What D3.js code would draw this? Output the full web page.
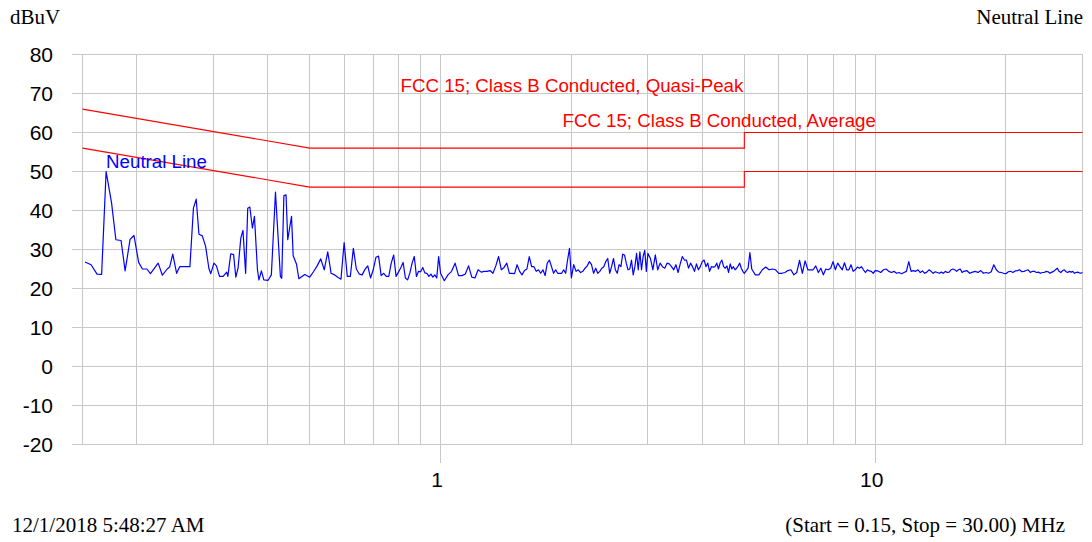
<!DOCTYPE html>
<html>
<head>
<meta charset="utf-8">
<script src="https://cdn.jsdelivr.net/npm/d3@7"></script>
<style>
  body { margin: 0; background: #fff; }
  svg { display: block; }
</style>
</head>
<body>
<svg id="chart" width="1092" height="542"></svg>
<script>
// Axis ticks
const yTicks = [80, 70, 60, 50, 40, 30, 20, 10, 0, -10, -20];
const xMajor = [1, 10];
const xMinor = [0.2, 0.3, 0.4, 0.5, 0.6, 0.7, 0.8, 0.9, 2, 3, 4, 5, 6, 7, 8, 9, 20];

// FCC 15 Class B conducted limits, [MHz, dBuV]
const limitQP = [[0.15, 66], [0.5, 56], [5, 56], [5, 60], [30, 60]];
const limitAvg = [[0.15, 56], [0.5, 46], [5, 46], [5, 50], [30, 50]];

// Neutral line scan, [MHz, dBuV]
const neutralLow = [
  [0.152, 26.8], [0.157, 26.1], [0.162, 23.7], [0.166, 23.6], [0.170, 50.0], [0.175, 41.9],
  [0.179, 32.5], [0.184, 32.3], [0.188, 24.5], [0.193, 32.6], [0.197, 33.6], [0.202, 26.7],
  [0.206, 25.0], [0.211, 25.0], [0.215, 23.8], [0.224, 26.5], [0.229, 23.4], [0.235, 25.0],
  [0.238, 25.5], [0.242, 28.8], [0.247, 23.9], [0.251, 25.6], [0.265, 25.6], [0.270, 40.6],
  [0.274, 42.9], [0.278, 33.9], [0.283, 33.5], [0.288, 30.8], [0.293, 25.2], [0.296, 23.8],
  [0.301, 26.5], [0.305, 25.8], [0.310, 23.1], [0.316, 23.1], [0.322, 24.2], [0.324, 23.1],
  [0.329, 28.9], [0.334, 28.7], [0.338, 22.9], [0.342, 25.2], [0.347, 32.9], [0.351, 34.9],
  [0.356, 23.9], [0.360, 40.6], [0.364, 40.9], [0.369, 35.5], [0.373, 38.5], [0.379, 24.8],
  [0.382, 22.2], [0.387, 24.5], [0.392, 22.2], [0.401, 22.1], [0.408, 23.5], [0.417, 44.7],
  [0.428, 23.1], [0.431, 22.6], [0.436, 43.8], [0.441, 44.0], [0.445, 32.5], [0.454, 38.5],
  [0.458, 28.4], [0.466, 26.3], [0.472, 22.5], [0.487, 23.6]
];
const neutralMid = [
  [0.50, 22.9], [0.51, 24.3], [0.52, 25.8], [0.53, 27.6], [0.54, 24.8], [0.55, 29.4],
  [0.56, 23.9], [0.57, 23.5], [0.58, 22.9], [0.59, 22.4], [0.60, 31.8], [0.61, 23.1],
  [0.62, 23.1], [0.63, 30.3], [0.64, 25.0], [0.65, 23.7], [0.66, 23.5], [0.67, 24.9],
  [0.68, 25.8], [0.69, 22.7], [0.70, 24.8], [0.71, 28.0], [0.72, 28.3], [0.73, 23.3],
  [0.74, 23.9], [0.75, 23.1], [0.76, 23.1], [0.77, 26.5], [0.78, 28.6], [0.79, 23.1],
  [0.80, 24.2], [0.81, 25.3], [0.82, 26.7], [0.83, 22.7], [0.84, 22.2], [0.85, 24.0],
  [0.86, 26.5], [0.87, 28.2], [0.88, 23.1], [0.89, 24.4], [0.90, 24.3], [0.91, 25.4],
  [0.92, 24.0], [0.93, 23.9], [0.94, 23.1], [0.95, 23.7], [0.96, 22.9], [0.97, 23.5],
  [0.98, 22.7], [0.99, 28.2], [1.00, 23.9],
  [1.02, 22.0], [1.04, 23.5], [1.06, 24.4], [1.08, 26.5], [1.10, 23.3], [1.12, 23.3],
  [1.14, 23.7], [1.16, 25.8], [1.18, 22.9], [1.20, 22.7], [1.22, 24.8], [1.24, 24.2],
  [1.26, 24.4], [1.28, 24.4], [1.30, 24.6], [1.32, 23.9], [1.34, 25.8], [1.36, 28.2],
  [1.38, 24.8], [1.40, 25.4], [1.42, 26.5], [1.44, 23.9], [1.46, 23.9], [1.48, 23.8],
  [1.50, 26.1], [1.52, 24.4], [1.54, 23.5], [1.56, 24.6], [1.58, 25.0], [1.60, 28.2],
  [1.62, 25.6], [1.64, 25.6], [1.66, 24.4], [1.68, 24.8], [1.70, 23.9], [1.72, 24.8],
  [1.74, 23.3], [1.76, 26.5], [1.78, 27.3], [1.80, 25.6], [1.82, 23.9], [1.84, 24.8],
  [1.86, 23.9], [1.88, 23.9], [1.90, 23.9], [1.92, 24.8], [1.94, 23.9], [1.96, 27.3],
  [1.98, 30.3], [2.00, 22.7],
  [2.025, 26.1], [2.05, 24.4], [2.075, 24.8], [2.10, 24.1], [2.125, 24.4], [2.15, 25.2],
  [2.175, 25.8], [2.20, 26.9], [2.225, 26.1], [2.25, 23.9], [2.275, 25.2], [2.30, 23.9],
  [2.325, 24.4], [2.35, 25.2], [2.375, 25.6], [2.40, 26.9], [2.425, 27.7], [2.45, 23.9],
  [2.475, 25.6], [2.50, 27.7], [2.525, 24.8], [2.55, 23.9], [2.575, 26.1], [2.60, 25.6],
  [2.625, 28.8], [2.65, 28.6], [2.675, 26.5], [2.70, 24.8], [2.725, 25.0], [2.75, 27.3],
  [2.775, 23.5], [2.80, 25.6], [2.825, 29.0], [2.85, 24.8], [2.875, 29.4], [2.90, 24.8],
  [2.925, 28.2], [2.95, 29.8], [2.975, 24.4], [3.00, 29.0],
  [3.04, 27.7], [3.08, 24.8], [3.12, 28.6], [3.16, 24.8], [3.20, 26.5], [3.24, 25.6],
  [3.28, 25.2], [3.32, 26.5], [3.36, 26.3], [3.40, 25.6], [3.44, 24.8], [3.48, 26.1],
  [3.52, 24.1], [3.56, 26.3], [3.60, 28.2], [3.64, 27.3], [3.68, 27.3], [3.72, 25.2],
  [3.76, 26.5], [3.80, 25.6], [3.84, 24.4], [3.88, 26.3], [3.92, 24.8], [3.96, 25.6],
  [4.00, 26.9], [4.04, 27.3], [4.08, 25.6], [4.12, 26.5], [4.16, 24.4], [4.20, 25.6],
  [4.24, 25.5], [4.28, 25.6], [4.32, 26.5], [4.36, 25.0], [4.40, 26.6], [4.44, 27.3],
  [4.48, 25.6], [4.52, 25.2], [4.56, 25.8], [4.60, 24.1], [4.64, 26.3], [4.68, 25.0],
  [4.72, 25.6], [4.76, 24.8], [4.80, 25.2], [4.84, 25.8], [4.88, 26.5], [4.92, 25.2],
  [4.96, 24.4], [5.00, 23.9]
];
const neutralHigh = [
  [5.10, 25.2], [5.15, 29.2], [5.20, 25.0], [5.30, 23.5], [5.40, 23.5], [5.50, 24.8],
  [5.60, 25.5], [5.70, 24.8], [5.80, 25.0], [5.90, 24.8], [6.00, 23.9], [6.10, 23.9],
  [6.20, 24.1], [6.30, 24.6], [6.40, 24.8], [6.50, 23.5], [6.60, 24.1], [6.70, 27.2],
  [6.80, 23.9], [6.90, 27.1], [7.00, 24.8], [7.10, 24.8], [7.20, 24.8], [7.30, 25.8],
  [7.40, 24.1], [7.50, 25.2], [7.60, 23.5], [7.70, 25.0], [7.80, 24.8], [7.90, 25.2],
  [8.00, 26.9], [8.10, 24.8], [8.20, 26.5], [8.30, 25.6], [8.40, 24.8], [8.50, 26.6],
  [8.60, 24.8], [8.70, 24.8], [8.80, 26.1], [8.90, 24.4], [9.00, 24.8], [9.10, 25.5],
  [9.20, 25.2], [9.30, 25.6], [9.40, 24.8], [9.50, 24.1], [9.60, 24.8], [9.70, 24.5],
  [9.80, 24.4], [9.90, 23.9], [10.0, 24.6],
  [10.15, 24.5], [10.30, 24.1], [10.45, 24.8], [10.60, 25.0], [10.75, 24.4], [10.90, 24.1],
  [11.05, 24.4], [11.20, 23.9], [11.35, 24.1], [11.50, 23.8], [11.65, 24.1], [11.80, 24.4],
  [11.95, 26.9], [12.10, 24.4], [12.25, 24.6], [12.40, 24.4], [12.55, 24.8], [12.70, 24.1],
  [12.85, 24.5], [13.00, 23.9], [13.15, 24.2], [13.30, 24.8], [13.45, 24.4], [13.60, 23.9],
  [13.75, 24.3], [13.90, 24.1], [14.05, 23.9], [14.20, 24.2], [14.35, 23.9], [14.50, 24.4],
  [14.65, 24.1], [14.80, 24.2], [14.95, 24.8], [15.10, 25.0], [15.25, 24.8], [15.40, 24.4],
  [15.55, 24.8], [15.70, 25.0], [15.85, 24.1], [16.00, 24.4],
  [16.25, 24.6], [16.50, 23.9], [16.75, 24.2], [17.00, 24.4], [17.25, 24.1], [17.50, 24.6],
  [17.75, 23.9], [18.00, 24.1], [18.25, 23.9], [18.50, 24.3], [18.75, 26.1], [19.00, 24.8],
  [19.25, 24.2], [19.50, 24.1], [19.75, 23.9], [20.00, 23.8], [20.25, 24.3], [20.50, 24.4],
  [20.75, 24.1], [21.00, 24.5], [21.25, 24.6], [21.50, 24.8], [21.75, 24.3], [22.00, 24.4],
  [22.25, 24.6], [22.50, 24.8], [22.75, 24.1], [23.00, 24.4], [23.25, 24.4], [23.50, 24.1],
  [23.75, 24.2], [24.00, 23.9], [24.25, 24.1], [24.50, 24.1], [24.75, 24.4], [25.00, 24.3],
  [25.25, 23.9], [25.50, 24.2], [25.75, 24.4], [26.00, 24.8], [26.25, 25.2], [26.50, 24.4],
  [26.75, 24.1], [27.00, 24.6], [27.25, 24.8], [27.50, 24.3], [27.75, 24.1], [28.00, 24.4],
  [28.25, 24.2], [28.50, 24.4], [28.75, 23.9], [29.00, 24.1], [29.25, 24.2], [29.50, 24.0],
  [29.75, 23.9], [30.00, 24.1]
];
const neutral = neutralLow.concat(neutralMid, neutralHigh);

const SANS = 'Liberation Sans, Arial, sans-serif';
const SERIF = 'Liberation Serif, Times New Roman, serif';
const GRID = '#c8c8c8';

const svg = d3.select('#chart');

const x = d3.scaleLog().domain([0.15, 30]).range([82.5, 1082.5]);
const y = d3.scaleLinear().domain([-20, 80]).range([444.5, 54.5]);

// Grid
const grid = svg.append('g').attr('shape-rendering', 'crispEdges').attr('stroke', GRID).attr('stroke-width', 1);

grid.selectAll('.hgrid').data(yTicks).join('line')
  .attr('x1', 72).attr('x2', x(30))
  .attr('y1', d => y(d)).attr('y2', d => y(d));

grid.selectAll('.vminor').data(xMinor.concat([0.15, 30])).join('line')
  .attr('x1', d => x(d)).attr('x2', d => x(d))
  .attr('y1', y(80)).attr('y2', y(-20));

grid.selectAll('.vmajor').data(xMajor).join('line')
  .attr('x1', d => x(d)).attr('x2', d => x(d))
  .attr('y1', y(80)).attr('y2', y(-20) + 18);

// Axis labels (plain hyphen for negatives, as in the original)
const yAxis = d3.axisLeft(y).tickValues(yTicks).tickFormat(d => String(d)).tickSize(0).tickPadding(29.5);
svg.append('g')
  .attr('transform', `translate(${x(0.15)},0)`)
  .call(yAxis)
  .call(g => g.select('.domain').remove())
  .call(g => g.selectAll('text')
    .attr('font-family', SANS).attr('font-size', 21).attr('fill', '#000'));

const xAxis = d3.axisBottom(x).tickValues(xMajor).tickFormat(d => String(d)).tickSize(0).tickPadding(28);
svg.append('g')
  .attr('transform', `translate(0,${y(-20)})`)
  .call(xAxis)
  .call(g => g.select('.domain').remove())
  .call(g => g.selectAll('text')
    .attr('x', -4)
    .attr('font-family', SANS).attr('font-size', 21).attr('fill', '#000'));

// Limit lines
const line = d3.line().x(d => x(d[0])).y(d => y(d[1]));

svg.append('path').datum(limitQP)
  .attr('d', line).attr('fill', 'none').attr('stroke', '#ff0000').attr('stroke-width', 1.1);
svg.append('path').datum(limitAvg)
  .attr('d', line).attr('fill', 'none').attr('stroke', '#ff0000').attr('stroke-width', 1.1);

// Scan trace
svg.append('path').datum(neutral)
  .attr('d', line).attr('fill', 'none').attr('stroke', '#0000ff')
  .attr('stroke-width', 1.2).attr('stroke-linejoin', 'round');

// In-plot labels
const inLabel = (txt, xv, yv, color) =>
  svg.append('text').attr('x', x(xv)).attr('y', y(yv))
    .attr('font-family', SANS).attr('font-size', 18.7).attr('fill', color).text(txt);

inLabel('FCC 15; Class B Conducted, Quasi-Peak', 0.809, 70.3, '#ff0000');
inLabel('FCC 15; Class B Conducted, Average', 1.908, 61.3, '#ff0000');
inLabel('Neutral Line', 0.17, 50.8, '#0000ff');

// Header / footer
const note = (txt, xp, yp, anchor) =>
  svg.append('text').attr('x', xp).attr('y', yp).attr('text-anchor', anchor)
    .attr('font-family', SERIF).attr('font-size', 21).attr('fill', '#000').text(txt);

note('dBuV', 10, 24, 'start');
note('Neutral Line', 1083, 24, 'end');
note('12/1/2018 5:48:27 AM', 12, 532, 'start');
note('(Start = 0.15, Stop = 30.00) MHz', 1065, 532, 'end');
</script>
